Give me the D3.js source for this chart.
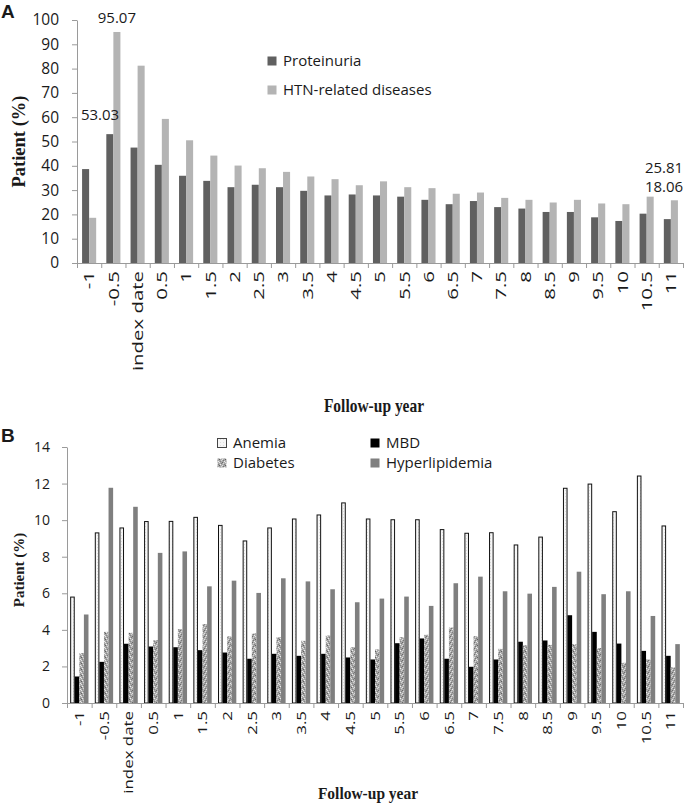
<!DOCTYPE html>
<html>
<head>
<meta charset="utf-8">
<script src="https://cdn.jsdelivr.net/npm/d3@7"></script>
<style>
  html, body { margin: 0; padding: 0; background: #fff; }
  svg { display: block; }
  text { fill: #1a1a1a; }
</style>
</head>
<body>
<svg id="chart" width="685" height="805"></svg>
<script>
// ---------------- DATA ----------------
const categories = ["-1","-0.5","index date","0.5","1","1.5","2","2.5","3","3.5","4","4.5","5","5.5","6","6.5","7","7.5","8","8.5","9","9.5","10","10.5","11"];

// Panel A
const seriesA = ["Proteinuria","HTN-related diseases"];
const proteinuria = [38.65,53.03,47.5,40.4,35.9,33.8,31.2,32.2,31.2,29.7,27.8,28.2,27.8,27.3,26.0,24.2,25.5,23.0,22.4,21.0,21.0,18.8,17.3,20.3,18.06];
const htn = [18.6,95.07,81.2,59.3,50.5,44.2,40.1,39.0,37.5,35.6,34.5,32.0,33.6,31.2,30.8,28.5,29.0,26.8,26.0,24.9,26.0,24.5,24.2,27.3,25.81];
const ticksA = [0,10,20,30,40,50,60,70,80,90,100];
const annotationsA = [
  {cat:"-0.5", series:"Proteinuria", text:"53.03"},
  {cat:"-0.5", series:"HTN-related diseases", text:"95.07"},
  {cat:"11", series:"HTN-related diseases", text:"25.81"},
  {cat:"11", series:"Proteinuria", text:"18.06"}
];

// Panel B
const seriesB = ["Anemia","MBD","Diabetes","Hyperlipidemia"];
const anemia = [5.82,9.33,9.6,9.95,9.96,10.18,9.74,8.89,9.6,10.09,10.31,10.97,10.09,10.05,10.05,9.51,9.31,9.34,8.67,9.1,11.77,12.0,10.49,12.44,9.71];
const mbd = [1.45,2.25,3.24,3.09,3.05,2.89,2.76,2.42,2.69,2.58,2.69,2.49,2.38,3.27,3.53,2.42,1.98,2.38,3.35,3.42,4.8,3.89,3.25,2.85,2.58];
const diabetes = [2.73,3.89,3.84,3.44,4.04,4.31,3.64,3.8,3.6,3.4,3.69,3.05,2.93,3.6,3.73,4.13,3.65,2.96,3.15,3.18,3.22,3.0,2.2,2.38,1.95];
const hyperlipidemia = [4.84,11.77,10.73,8.21,8.29,6.38,6.69,6.02,6.82,6.65,6.22,5.51,5.71,5.82,5.31,6.55,6.91,6.11,5.98,6.35,7.18,5.95,6.11,4.76,3.22];
const ticksB = [0,2,4,6,8,10,12,14];

const xTitle = "Follow-up year";
const yTitle = "Patient (%)";

// ---------------- DRAW ----------------
const svg = d3.select("#chart");
const FONT = "'Open Sans', 'Noto Sans', sans-serif";
const SERIF = "'Liberation Serif', 'DejaVu Serif', serif";
const AXIS_COL = "#9a9a9a";

const defs = svg.append("defs");
const pat = defs.append("pattern").attr("id","diabPat").attr("patternUnits","userSpaceOnUse")
  .attr("width",6).attr("height",6);
pat.append("rect").attr("width",6).attr("height",6).attr("fill","#a9a9a9");
[[0,0,"#6a6a6a"],[3,0,"#e4e4e4"],[5,1,"#7c7c7c"],[1,1,"#d8d8d8"],[2,2,"#808080"],[4,2,"#efefef"],
 [0,3,"#e0e0e0"],[3,3,"#5f5f5f"],[5,4,"#d4d4d4"],[1,4,"#777777"],[2,5,"#ececec"],[4,5,"#858585"]].forEach(([x,y,c])=>{
  pat.append("rect").attr("x",x).attr("y",y).attr("width",1).attr("height",1).attr("fill",c);
});
const anPat = defs.append("pattern").attr("id","anPat").attr("patternUnits","userSpaceOnUse")
  .attr("width",3).attr("height",3);
anPat.append("rect").attr("width",3).attr("height",3).attr("fill","#f6f6f6");
anPat.append("rect").attr("x",1).attr("y",1).attr("width",1).attr("height",1).attr("fill","#dedede");

function drawPanel(cfg) {
  const g = svg.append("g");
  const x = d3.scaleBand().domain(categories).range([cfg.x0, cfg.x1]).padding(0);
  const xs = d3.scaleBand().domain(cfg.series).range([0, x.bandwidth()]).paddingInner(0).paddingOuter(cfg.po);
  const y = d3.scaleLinear().domain(cfg.domain).range([cfg.yb, cfg.yt]);

  // bars
  cfg.series.forEach((s, si) => {
    const vals = cfg.values[si];
    const st = cfg.strokes[si];
    g.append("g").selectAll("rect").data(categories).join("rect")
      .attr("x", (c) => x(c) + xs(s) + (st ? 0.5 : 0))
      .attr("y", (c, i) => y(vals[i]) + (st ? 0.5 : 0))
      .attr("width", xs.bandwidth() - (st ? 1 : 0))
      .attr("height", (c, i) => y(0) - y(vals[i]) - (st ? 0.5 : 0))
      .attr("fill", cfg.fills[si])
      .attr("stroke", st || "none")
      .attr("stroke-width", st ? 1 : 0);
  });

  // y axis
  const ya = g.append("g").attr("transform", `translate(${cfg.x0},0)`)
    .call(d3.axisLeft(y).tickValues(cfg.ticks).tickSize(5).tickPadding(cfg.yPad).tickSizeOuter(0));
  ya.selectAll("path, line").attr("stroke", AXIS_COL);
  ya.selectAll("text").style("font-family", FONT).style("font-size", cfg.yFont + "px").attr("fill", "#1a1a1a");

  // x axis boundary ticks
  const xi = d3.scaleLinear().domain([0, categories.length]).range([cfg.x0, cfg.x1]);
  const xb = g.append("g").attr("transform", `translate(0,${cfg.yb})`)
    .call(d3.axisBottom(xi).tickValues(d3.range(categories.length + 1)).tickFormat("").tickSize(5).tickSizeOuter(0));
  xb.selectAll("path, line").attr("stroke", AXIS_COL);

  // x labels (stretched along the text direction like the reference)
  const xl = g.append("g").attr("transform", `translate(0,${cfg.yb})`)
    .call(d3.axisBottom(x).tickSize(0).tickPadding(0));
  xl.select(".domain").remove();
  xl.selectAll("text")
    .style("font-family", FONT).style("font-size", cfg.xFont + "px").attr("fill", "#1a1a1a")
    .attr("text-anchor", "end")
    .attr("transform", `rotate(-90) scale(${cfg.xStretch},1)`)
    .attr("x", -cfg.xLabOff / cfg.xStretch).attr("y", 0).attr("dy", "0.35em");

  // titles
  g.append("text").attr("transform", `translate(${cfg.yTitleX},${cfg.yTitleY}) rotate(-90)`)
    .attr("text-anchor", "middle").attr("dy", "0.35em")
    .style("font-family", SERIF).style("font-weight", "bold").style("font-size", cfg.yTitleFont + "px")
    .text(yTitle);
  g.append("text").attr("transform", `translate(${cfg.xTitleX},${cfg.xTitleY}) scale(1,${cfg.xTitleStretch})`)
    .attr("text-anchor", "middle").attr("dy", "0.35em")
    .style("font-family", SERIF).style("font-weight", "bold").style("font-size", "15.5px")
    .text(xTitle);

  // panel letter
  g.append("text").attr("x", 1).attr("y", cfg.letterY)
    .style("font-family", "'Liberation Sans', Arial, sans-serif").style("font-weight", "bold").style("font-size", "19px")
    .text(cfg.letter);

  // legend
  cfg.legend.forEach((L) => {
    const si = cfg.series.indexOf(L.name);
    g.append("rect").attr("x", L.x + 0.5).attr("y", L.y - 4.5).attr("width", L.box).attr("height", L.box)
      .attr("fill", cfg.fills[si]).attr("stroke", cfg.legendStroke[si] || "none").attr("stroke-width", 1);
    g.append("text").attr("x", L.x + L.box + 7).attr("y", L.y).attr("dy", "0.35em")
      .style("font-family", FONT).style("font-size", cfg.legFont + "px").text(L.name);
  });

  return {g, x, xs, y};
}

// Panel A
const A = drawPanel({
  x0: 77, x1: 683, yb: 263, yt: 20, domain: [0, 100], ticks: ticksA,
  series: seriesA, values: [proteinuria, htn], po: 0.72,
  fills: ["#606060", "#b4b4b4"], strokes: [null, null], legendStroke: [null, null],
  yPad: 13, yFont: 15.5, xFont: 15, xStretch: 1.36, xLabOff: 8,
  yTitleX: 18.5, yTitleY: 141.5, yTitleFont: 18.5,
  xTitleX: 374, xTitleY: 406, xTitleStretch: 1.15,
  letter: "A", letterY: 18,
  legFont: 15,
  legend: [
    {name: "Proteinuria", x: 267, y: 61, box: 9},
    {name: "HTN-related diseases", x: 267, y: 90, box: 9}
  ]
});

// annotations A
annotationsA.forEach((a) => {
  const si = seriesA.indexOf(a.series);
  const v = [proteinuria, htn][si][categories.indexOf(a.cat)];
  let cx, cy;
  if (a.cat === "-0.5" && si === 0) { cx = 100; cy = 115; }
  else if (a.cat === "-0.5") { cx = A.x(a.cat) + A.xs(a.series) + A.xs.bandwidth()/2; cy = A.y(v) - 14; }
  else { cx = 664; cy = si === 1 ? 168 : 187; }
  A.g.append("text").attr("x", cx).attr("y", cy).attr("dy", "0.35em").attr("text-anchor", "middle")
    .style("font-family", FONT).style("font-size", "15px").text(a.text);
});

// Panel B
drawPanel({
  x0: 67, x1: 683, yb: 703, yt: 447, domain: [0, 14], ticks: ticksB,
  series: seriesB, values: [anemia, mbd, diabetes, hyperlipidemia], po: 0.69,
  fills: ["url(#anPat)", "#000000", "url(#diabPat)", "#7f7f7f"], strokes: ["#111", null, null, null],
  legendStroke: ["#444", null, null, null],
  yPad: 12, yFont: 14, xFont: 13.5, xStretch: 1.25, xLabOff: 8,
  yTitleX: 18.5, yTitleY: 570, yTitleFont: 15,
  xTitleX: 368, xTitleY: 793, xTitleStretch: 1.05,
  letter: "B", letterY: 442,
  legFont: 15,
  legend: [
    {name: "Anemia", x: 217, y: 443, box: 9},
    {name: "Diabetes", x: 217, y: 463, box: 9},
    {name: "MBD", x: 370, y: 443, box: 9},
    {name: "Hyperlipidemia", x: 370, y: 463, box: 9}
  ]
});
</script>
</body>
</html>
